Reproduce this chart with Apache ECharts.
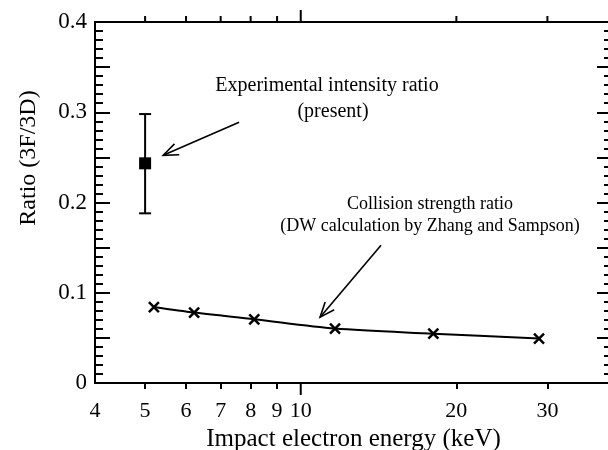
<!DOCTYPE html>
<html>
<head>
<meta charset="utf-8">
<script src="https://cdn.jsdelivr.net/npm/echarts@6/dist/echarts.min.js"></script>
<style>html,body{margin:0;padding:0;background:#fff}#c{width:608px;height:450px}</style>
</head>
<body>
<div id="c"></div>
<script>
// ---- data ----
const energies = [5.2, 6.22, 8.13, 11.65, 18.05, 28.9];
const ratios = [0.0842, 0.0780, 0.0706, 0.0603, 0.0547, 0.0492];
const expEnergy = [5.0];
const expRatio = [0.2434];
const expLow = [0.188];
const expHigh = [0.298];
const xTickMinor = [5, 6, 7, 8, 9, 20, 30];
const xTickMajor = [10];
const xTickLabels = [4, 5, 6, 7, 8, 9, 10, 20, 30];
const xRange = [4, 40];
const yRange = [0, 0.4];
const arrows = [
  [7.60, 0.2889, 5.42, 0.2523],
  [14.3, 0.1526, 10.9, 0.0729]
];

const FONT = '"Liberation Serif", "Times New Roman", serif';
const chart = echarts.init(document.getElementById('c'), null, {renderer: 'canvas'});

function gridRect() {
  return {left: 95, right: -4, top: 22, bottom: 67, outerBoundsMode: 'none', containLabel: false};
}
const yFmt = v => {
  const t = v * 10;
  if (Math.abs(t - Math.round(t)) > 1e-6) return '';
  return v === 0 ? '0' : v.toFixed(1);
};
const ST = {stroke: '#000', lineWidth: 2};

const option = {
  animation: false,
  backgroundColor: '#fff',
  grid: [gridRect(), gridRect()],
  xAxis: [
    {
      type: 'log', min: xRange[0], max: xRange[1], gridIndex: 0, position: 'bottom',
      splitLine: {show: false},
      axisLine: {show: true, onZero: false, lineStyle: {color: '#000', width: 2}},
      axisTick: {show: true, inside: false, length: 6, customValues: xTickMinor, lineStyle: {color: '#000', width: 2}},
      axisLabel: {show: true, customValues: xTickLabels, margin: 17, color: '#000', fontFamily: FONT, fontSize: 22,
        formatter: v => String(Math.round(v))},
      name: 'Impact electron energy (keV)', nameLocation: 'middle', nameGap: 42,
      nameTextStyle: {color: '#000', fontFamily: FONT, fontSize: 25}
    },
    {type: 'log', min: xRange[0], max: xRange[1], gridIndex: 1, position: 'top', show: false}
  ],
  yAxis: [
    {
      type: 'value', gridIndex: 0, position: 'left', min: yRange[0], max: yRange[1], interval: 0.05,
      splitLine: {show: false},
      axisLine: {show: true, onZero: false, lineStyle: {color: '#000', width: 2}},
      axisTick: {show: true, inside: true, length: 15, lineStyle: {color: '#000', width: 2}},
      minorTick: {show: true, splitNumber: 5, length: 8, lineStyle: {color: '#000', width: 2}},
      axisLabel: {color: '#000', fontFamily: FONT, fontSize: 23, margin: 8, formatter: yFmt}
    },
    {
      type: 'value', gridIndex: 1, position: 'right', min: yRange[0], max: yRange[1], interval: 0.05,
      splitLine: {show: false},
      axisLine: {show: true, onZero: false, lineStyle: {color: '#000', width: 2}},
      axisTick: {show: true, inside: true, length: 15, lineStyle: {color: '#000', width: 2}},
      minorTick: {show: true, splitNumber: 5, length: 8, lineStyle: {color: '#000', width: 2}},
      axisLabel: {show: false}
    }
  ],
  graphic: [
    {type: 'text', x: 29, y: 158, rotation: Math.PI / 2,
      style: {text: 'Ratio (3F/3D)', fontFamily: FONT, fontSize: 24, fill: '#000', align: 'center', verticalAlign: 'middle'}},
    {type: 'text', x: 327, y: 86,
      style: {text: 'Experimental intensity ratio', fontFamily: FONT, fontSize: 20, fill: '#000', align: 'center', verticalAlign: 'middle'}},
    {type: 'text', x: 333, y: 112,
      style: {text: '(present)', fontFamily: FONT, fontSize: 20, fill: '#000', align: 'center', verticalAlign: 'middle'}},
    {type: 'text', x: 430, y: 204,
      style: {text: 'Collision strength ratio', fontFamily: FONT, fontSize: 18, fill: '#000', align: 'center', verticalAlign: 'middle'}},
    {type: 'text', x: 430, y: 226,
      style: {text: '(DW calculation by Zhang and Sampson)', fontFamily: FONT, fontSize: 18, fill: '#000', align: 'center', verticalAlign: 'middle'}}
  ],
  series: [
    {
      type: 'line', xAxisIndex: 0, yAxisIndex: 0,
      data: energies.map((e, i) => [e, ratios[i]]),
      smooth: 0.3,
      lineStyle: {color: '#000', width: 2},
      symbol: 'path://M0,0L10,10M10,0L0,10', symbolSize: 10,
      itemStyle: {color: '#000', borderColor: '#000', borderWidth: 2.5},
      z: 3
    },
    {
      type: 'custom', xAxisIndex: 0, yAxisIndex: 0,
      data: expEnergy.map((e, i) => [e, expLow[i], expHigh[i]]),
      renderItem: (params, api) => {
        const lo = api.coord([api.value(0), api.value(1)]);
        const hi = api.coord([api.value(0), api.value(2)]);
        const w = 6;
        return {type: 'group', children: [
          {type: 'line', shape: {x1: lo[0], y1: lo[1], x2: hi[0], y2: hi[1]}, style: ST},
          {type: 'line', shape: {x1: lo[0] - w, y1: lo[1], x2: lo[0] + w, y2: lo[1]}, style: ST},
          {type: 'line', shape: {x1: hi[0] - w, y1: hi[1], x2: hi[0] + w, y2: hi[1]}, style: ST}
        ]};
      },
      z: 2
    },
    {
      type: 'scatter', xAxisIndex: 0, yAxisIndex: 0,
      data: expEnergy.map((e, i) => [e, expRatio[i]]),
      symbol: 'rect', symbolSize: 12,
      itemStyle: {color: '#000', opacity: 1}, z: 4
    },
    {
      // top frame edge with its ticks, and the long decade tick at the bottom
      type: 'custom', xAxisIndex: 0, yAxisIndex: 0, clip: false, silent: true, zlevel: 1, z: 50,
      data: [[xRange[0], xRange[1]]],
      renderItem: (params, api) => {
        const yTop = yRange[1], yBot = yRange[0];
        const l = api.coord([api.value(0), yTop]);
        const r = api.coord([api.value(1), yTop]);
        const kids = [{type: 'line', shape: {x1: l[0] - 1, y1: l[1], x2: r[0] + 1, y2: r[1]}, style: ST}];
        xTickMinor.forEach(v => {
          const t = api.coord([v, yTop]);
          kids.push({type: 'line', shape: {x1: t[0], y1: t[1], x2: t[0], y2: t[1] - 6}, style: ST});
        });
        xTickMajor.forEach(v => {
          const t = api.coord([v, yTop]);
          const b = api.coord([v, yBot]);
          kids.push({type: 'line', shape: {x1: t[0], y1: t[1], x2: t[0], y2: t[1] - 12}, style: ST});
          kids.push({type: 'line', shape: {x1: b[0], y1: b[1], x2: b[0], y2: b[1] + 12}, style: ST});
        });
        return {type: 'group', children: kids};
      }
    },
    {
      type: 'custom', xAxisIndex: 0, yAxisIndex: 0,
      data: arrows,
      renderItem: (params, api) => {
        const a = api.coord([api.value(0), api.value(1)]);
        const b = api.coord([api.value(2), api.value(3)]);
        const ang = Math.atan2(a[1] - b[1], a[0] - b[0]);
        const L = 16, spread = 0.38;
        const h1 = [b[0] + L * Math.cos(ang + spread), b[1] + L * Math.sin(ang + spread)];
        const h2 = [b[0] + L * Math.cos(ang - spread), b[1] + L * Math.sin(ang - spread)];
        const st = {stroke: '#000', lineWidth: 1.6, fill: null};
        return {type: 'group', children: [
          {type: 'line', shape: {x1: a[0], y1: a[1], x2: b[0], y2: b[1]}, style: st},
          {type: 'polyline', shape: {points: [h1, b, h2]}, style: st}
        ]};
      },
      z: 5
    }
  ]
};
chart.setOption(option);
</script>
</body>
</html>
